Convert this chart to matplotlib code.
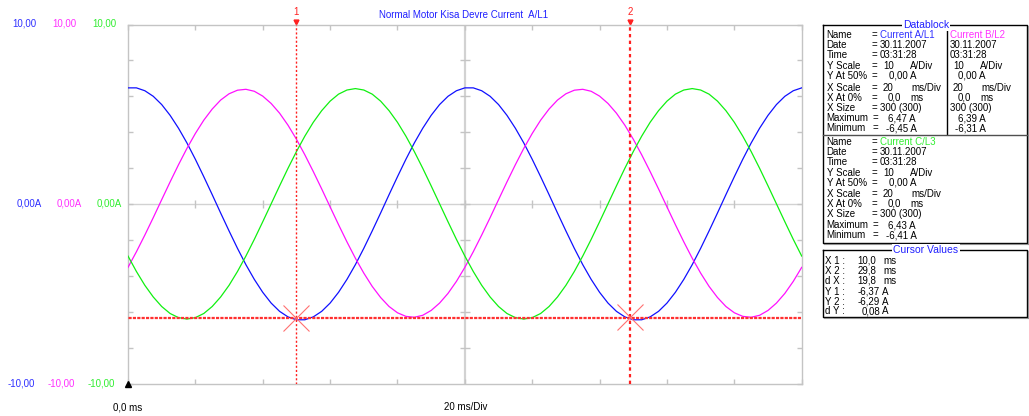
import numpy as np
import matplotlib.pyplot as plt
import matplotlib.transforms as mtransforms

plt.rcParams['font.family'] = ['Liberation Sans', 'DejaVu Sans']

# time base of the recording, 0.5 ms per sample over 40 ms
t_ms = np.linspace(0, 40, 81)

current_a = [6.47, 6.47, 6.31, 6.00, 5.54, 4.94, 4.22, 3.40, 2.49, 1.52,
             0.52, -0.50, -1.50, -2.47, -3.38, -4.20, -4.92, -5.52, -5.98, -6.29,
             -6.45, -6.45, -6.29, -5.98, -5.52, -4.92, -4.20, -3.38, -2.47, -1.50,
             -0.50, 0.52, 1.52, 2.49, 3.40, 4.22, 4.94, 5.54, 6.00, 6.31,
             6.47, 6.47, 6.31, 6.00, 5.54, 4.94, 4.22, 3.40, 2.49, 1.52,
             0.52, -0.50, -1.50, -2.47, -3.38, -4.20, -4.92, -5.52, -5.98, -6.29,
             -6.45, -6.45, -6.29, -5.98, -5.52, -4.92, -4.20, -3.38, -2.47, -1.50,
             -0.50, 0.52, 1.52, 2.49, 3.40, 4.22, 4.94, 5.54, 6.00, 6.31,
             6.47]
current_b = [-3.53, -2.66, -1.73, -0.76, 0.24, 1.23, 2.19, 3.10, 3.93, 4.67,
             5.29, 5.79, 6.14, 6.34, 6.39, 6.28, 6.01, 5.60, 5.06, 4.39,
             3.61, 2.74, 1.81, 0.84, -0.16, -1.15, -2.11, -3.02, -3.85, -4.59,
             -5.21, -5.71, -6.06, -6.26, -6.31, -6.20, -5.93, -5.52, -4.98, -4.31,
             -3.53, -2.66, -1.73, -0.76, 0.24, 1.23, 2.19, 3.10, 3.93, 4.67,
             5.29, 5.79, 6.14, 6.34, 6.39, 6.28, 6.01, 5.60, 5.06, 4.39,
             3.61, 2.74, 1.81, 0.84, -0.16, -1.15, -2.11, -3.02, -3.85, -4.59,
             -5.21, -5.71, -6.06, -6.26, -6.31, -6.20, -5.93, -5.52, -4.98, -4.31,
             -3.53]
current_c = [-2.90, -3.76, -4.53, -5.18, -5.71, -6.10, -6.33, -6.41, -6.33, -6.10,
             -5.71, -5.18, -4.53, -3.76, -2.90, -1.97, -0.99, 0.01, 1.01, 1.99,
             2.92, 3.78, 4.55, 5.20, 5.73, 6.12, 6.35, 6.43, 6.35, 6.12,
             5.73, 5.20, 4.55, 3.78, 2.92, 1.99, 1.01, 0.01, -0.99, -1.97,
             -2.90, -3.76, -4.53, -5.18, -5.71, -6.10, -6.33, -6.41, -6.33, -6.10,
             -5.71, -5.18, -4.53, -3.76, -2.90, -1.97, -0.99, 0.01, 1.01, 1.99,
             2.92, 3.78, 4.55, 5.20, 5.73, 6.12, 6.35, 6.43, 6.35, 6.12,
             5.73, 5.20, 4.55, 3.78, 2.92, 1.99, 1.01, 0.01, -0.99, -1.97,
             -2.90]

names = ['Current A/L1', 'Current B/L2', 'Current C/L3']
colors = ['#1010ff', '#ff10ff', '#10f010']
text_colors = ['#3030ff', '#ff30ff', '#30ee30']
rec_date = '30.11.2007'
rec_time = '03:31:28'
y_scale = 10      # A/Div
x_scale = 20      # ms/Div
x_size = 300
title = 'Normal Motor Kisa Devre Current  A/L1'

cursor_x = [10.0, 29.8]
cursor_y = [-6.37, -6.29]


def fmt(v, d=2):
    return f'{v:.{d}f}'.replace('.', ',')


W, H = 1029, 416
fig = plt.figure(figsize=(W / 100, H / 100), dpi=100)
fig.patch.set_facecolor('white')

# scope screen
ax = fig.add_axes([128 / W, (H - 383.5) / H, 673.7 / W, 359 / H])
ax.set_xlim(0, 2 * x_scale)
ax.set_ylim(-y_scale, y_scale)
grid = '#c4c4c4'
for s in ax.spines.values():
    s.set_color(grid)
    s.set_linewidth(1)
xt = np.arange(0, 2 * x_scale + 1, 4)
yt = np.arange(-y_scale, y_scale + 1, 2)
ax.set_xticks(xt)
ax.set_yticks(yt)
ax.tick_params(direction='in', length=3.6, width=1, color=grid,
               top=True, right=True, labelbottom=False, labelleft=False)
ax.axvline(x_scale, color='#d2d2d2', lw=1.6, zorder=1)
ax.axhline(0, color='#d2d2d2', lw=1, zorder=1)
ax.plot(xt[1:-1], np.zeros(len(xt) - 2), '|', ms=5.5, mew=1, color=grid, zorder=1)
ax.plot(np.full(len(yt) - 2, x_scale), yt[1:-1], '_', ms=7, mew=1, color=grid, zorder=1)

for y, c in zip([current_a, current_b, current_c], colors):
    ax.plot(t_ms, y, color=c, lw=0.9, zorder=3)

# cursors
top_off = mtransforms.offset_copy(ax.get_xaxis_transform(), fig=fig, x=0, y=1.5, units='points')
for i, (cx, cy) in enumerate(zip(cursor_x, cursor_y)):
    lw = 1 if i == 0 else 1.6
    ax.axvline(cx, color='#ff2020', ls=(0, (1.5, 1.5)), lw=lw, zorder=4)
    ax.axhline(cy, color='#ff3030', ls=(0, (2.5, 1)), lw=0.9, zorder=4)
    ax.plot(cx, cy, 'x', ms=19, mew=0.8, color='#ff7070', zorder=5)
    ax.plot(cx, 1, 'v', ms=3.5, color='#ff2020', transform=top_off, clip_on=False)
    ax.text(cx, 1.02, str(i + 1), color='#ff2020', fontsize=7, ha='center',
            va='bottom', transform=ax.get_xaxis_transform())
ax.plot(0, -y_scale, '^', ms=4, color='black', clip_on=False, zorder=6)

# everything around the screen, in pixel coordinates
ov = fig.add_axes([0, 0, 1, 1])
ov.set_xlim(0, W)
ov.set_ylim(H, 0)
ov.set_axis_off()
fs = 7


def txt(x, y, s, color='black', ha='left', **kw):
    ov.text(x, y, s, color=color, ha=ha, va='center', fontsize=fs, **kw)


txt(464, 15, title, color='#2020ff', ha='center')

# channel scales on the left
cols = [(12, 17, 8), (52, 57, 48), (92, 97, 88)]
for (xa, xb, xc), c in zip(cols, text_colors):
    txt(xa, 24, fmt(y_scale), c)
    txt(xb, 204, fmt(0) + 'A', c)
    txt(xc, 383, fmt(-y_scale), c)
txt(113, 407, fmt(0, 1) + ' ms')
txt(466, 407, f'{x_scale} ms/Div', ha='center')


def box(x0, y0, x1, y1, label):
    ov.plot([x0, x1, x1, x0, x0], [y0, y0, y1, y1, y0], color='black', lw=1)
    ov.plot([x1 + 1.2, x1 + 1.2], [y0 + 1, y1 + 1.2], color='#909090', lw=0.8)
    ov.plot([x0 + 1, x1 + 1.2], [y1 + 1.2, y1 + 1.2], color='#909090', lw=0.8)
    ov.text((x0 + x1) / 2 + 1, y0, label, color='#2020ff', ha='center', va='center',
            fontsize=fs + 0.5, bbox=dict(facecolor='white', edgecolor='none', pad=1))


box(823, 25, 1027, 243, 'Datablock')
ov.plot([946.7, 946.7], [29, 134], color='black', lw=1)
ov.plot([823, 1027], [135, 135], color='#505050', lw=1)
box(823, 250, 1027, 317, 'Cursor Values')

labels = ['Name', 'Date', 'Time', 'Y Scale', 'Y At 50%', 'X Scale', 'X At 0%',
          'X Size', 'Maximum', 'Minimum']
rows_ab = [35, 45, 55, 65.7, 75.7, 87.7, 97.7, 107.7, 118.3, 128.3]
rows_c = [142.3, 152.3, 162.3, 172.7, 182.7, 194, 204, 214, 225, 235.5]
series = [current_a, current_b, current_c]


def channel(rows, k, x0, with_labels):
    y = series[k]
    if with_labels:
        for lab, r in zip(labels, rows):
            txt(826.7, r, lab)
        for r in rows[:8]:
            txt(871.7, r, '=')
        for r in rows[8:]:
            txt(872.7, r, '=')
    d = x0 - 880
    shift = 0 if with_labels else 1
    txt(880 + d, rows[0], names[k], text_colors[k])
    txt(880 + d, rows[1], rec_date)
    txt(880 + d, rows[2], rec_time)
    txt(883 + d, rows[3], str(y_scale))
    txt(910 + d, rows[3], 'A/Div')
    txt(889 + d - shift, rows[4], fmt(0) + ' A')
    txt(883 + d, rows[5], str(x_scale))
    txt(911 + d, rows[5], 'ms/Div')
    txt(888 + d, rows[6], fmt(0, 1))
    txt(910.7 + d, rows[6], 'ms')
    txt(880 + d, rows[7], f'{x_size} ({x_size})')
    txt(888 + d, rows[8], fmt(max(y)) + ' A')
    txt(886 + d - shift, rows[9], fmt(min(y)) + ' A')


channel(rows_ab, 0, 880, True)
channel(rows_ab, 1, 950, False)
channel(rows_c, 2, 880, True)

# cursor readout
cur_rows = [260.7, 270.7, 280.7, 291.7, 301.7, 311.5]
cur_labels = ['X 1 :', 'X 2 :', 'd X :', 'Y 1 :', 'Y 2 :', 'd Y :']
dx = cursor_x[1] - cursor_x[0]
dy = cursor_y[1] - cursor_y[0]
cur_vals = [fmt(cursor_x[0], 1), fmt(cursor_x[1], 1), fmt(dx, 1),
            fmt(cursor_y[0]) + ' A', fmt(cursor_y[1]) + ' A', fmt(dy) + ' A']
for lab, r in zip(cur_labels, cur_rows):
    txt(825, r, lab)
for i, (v, r) in enumerate(zip(cur_vals, cur_rows)):
    if i < 3:
        txt(876, r, v, ha='right')
        txt(883, r, 'ms')
    else:
        txt(880, r, v.split()[0], ha='right')
        txt(882, r, 'A')

fig.savefig('out.png', dpi=100)
